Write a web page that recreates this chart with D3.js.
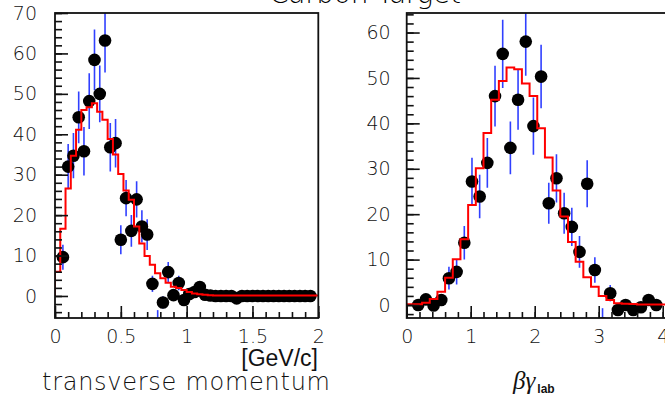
<!DOCTYPE html>
<html>
<head>
<meta charset="utf-8">
<script src="https://cdn.jsdelivr.net/npm/d3@7"></script>
<style>
  body { margin: 0; background: #fff; }
</style>
</head>
<body>
<svg id="chart" width="665" height="400"></svg>
<script>
// ---- left panel: transverse momentum [GeV/c], 0.04 wide bins
const ptBinWidth = 0.04;
const ptFirstCenter = 0.06;
const ptValues = [9.6, 32.0, 34.7, 44.2, 35.8, 48.2, 58.4, 50.0, 63.2, 36.8, 37.8, 13.9,
  24.2, 16.1, 23.9, 17.2, 15.2, 3.0, -8.5, -1.6, 5.9, 0.2, 3.2, -1.0, 0.5, 1.0, 2.2, 0.3,
  0.1, 0, 0, 0, 0, -0.6, 0, 0, 0, 0, 0, 0, 0, 0, 0, 0, 0, 0, 0, 0];
const ptErrors = [3.1, 5.6, 5.6, 6.4, 6.0, 6.9, 7.5, 7.0, 7.9, 6.0, 6.0, 3.6,
  4.5, 3.9, 4.5, 4.0, 3.8, 2.0, 5.0, 1.5, 2.5, 1.0, 1.8, 1.0, 1.0, 1.0, 1.5, 0.6,
  0.5, 0.5, 0.5, 0.5, 0.5, 0.5, 0.5, 0.5, 0.5, 0.5, 0.5, 0.5, 0.5, 0.5, 0.5, 0.5, 0.5, 0.5, 0.5, 0.5];
const ptHist = [6.0, 16.6, 26.6, 34.7, 41.1, 46.0, 46.7, 47.7, 45.6, 43.6, 38.8, 35.0,
  30.2, 26.1, 23.8, 17.2, 13.0, 9.9, 7.7, 5.6, 4.4, 3.3, 2.3, 2.0, 1.5, 1.0, 0.6, 0.4,
  0.3, 0.2, 0.1, 0.1, 0.1, 0.1, 0.1, 0.1, 0.1, 0.1, 0.1, 0.1, 0.1, 0.1, 0.1, 0.1, 0.1, 0.1, 0.1, 0.1, 0.1, 0.1];
const ptMajorX = [0, 0.5, 1, 1.5, 2];
const ptMajorXLabels = ["0", "0.5", "1", "1.5", "2"];
const ptMajorY = [0, 10, 20, 30, 40, 50, 60, 70];

// ---- right panel: beta*gamma (lab), 0.12 wide bins
const bgBinWidth = 0.12;
const bgFirstCenter = 0.18;
const bgValues = [0, 1.25, -0.1, 1.1, 5.9, 7.3, 13.7, 27.2, 23.9, 31.3, 46.0, 55.3,
  34.6, 45.2, 58.0, 39.4, 50.3, 22.4, 27.9, 20.2, 17.2, 11.7, 26.7, 7.7, -4.0, 2.6,
  -1.1, 0, -1.1, -0.5, 1.1, 0];
const bgErrors = [0.8, 1.2, 0.8, 1.2, 2.5, 2.8, 3.7, 5.2, 4.8, 5.5, 6.7, 7.5,
  5.8, 6.6, 7.5, 6.3, 7.0, 4.5, 5.3, 4.5, 4.2, 3.5, 5.2, 2.8, 3.3, 1.8,
  1.0, 0.8, 1.0, 0.8, 1.2, 0.8];
const bgHist = [0.15, 0.15, 0.5, 1.3, 2.9, 6.0, 10.1, 14.5, 22.0, 30.1, 37.9, 45.2,
  49.3, 52.3, 51.9, 48.8, 46.0, 38.9, 32.5, 25.2, 19.5, 13.9, 9.5, 6.1, 4.0, 2.0,
  1.1, 0.4, 0.3, 0.2, 0.1, 0.1, 0.1, 0.1];
const bgMajorX = [0, 1, 2, 3, 4];
const bgMajorXLabels = ["0", "1", "2", "3", "4"];
const bgMajorY = [0, 10, 20, 30, 40, 50, 60];

const thinFont = "'DejaVu Sans', 'Liberation Sans', sans-serif";
const svg = d3.select("#chart");

function drawPanel(p) {
  const x = d3.scaleLinear().domain(p.xDomain).range(p.xRange);
  const y = d3.scaleLinear().domain(p.yDomain).range(p.yRange);
  const left = p.xRange[0], right = p.xRange[1], top = p.yRange[1], bottom = p.yRange[0];

  svg.append("clipPath").attr("id", "clip-" + p.name)
    .append("rect")
    .attr("x", left).attr("y", top)
    .attr("width", right - left).attr("height", bottom - top);

  const plot = svg.append("g").attr("clip-path", `url(#clip-${p.name})`);

  const points = p.values.map((v, i) => ({
    x: p.firstCenter + i * p.binWidth, v: v, e: p.errors[i]
  }));

  // error bars
  plot.selectAll("line.err")
    .data(points)
    .enter().append("line")
    .attr("class", "err")
    .attr("x1", d => x(d.x)).attr("x2", d => x(d.x))
    .attr("y1", d => y(d.v - d.e)).attr("y2", d => y(d.v + d.e))
    .attr("stroke", "#3040ff")
    .attr("stroke-width", 1.6);

  // markers
  plot.selectAll("circle.pt")
    .data(points)
    .enter().append("circle")
    .attr("class", "pt")
    .attr("cx", d => x(d.x)).attr("cy", d => y(d.v))
    .attr("r", 6.3)
    .attr("fill", "#000");

  // red histogram (steps)
  const steps = [{ x: 0, v: 0 }].concat(
    p.hist.map((v, i) => ({ x: i * p.binWidth, v: v })),
    [{ x: p.hist.length * p.binWidth, v: p.hist[p.hist.length - 1] }]
  );
  plot.append("path")
    .datum(steps)
    .attr("fill", "none")
    .attr("stroke", "#ff0000")
    .attr("stroke-width", 2)
    .attr("d", d3.line().x(d => x(d.x)).y(d => y(d.v)).curve(d3.curveStepAfter));

  // axes, ticks pointing inwards
  const xMinor = d3.range(0, p.xDomain[1] + 1e-9, p.xMinorStep);
  const yMinor = d3.range(Math.ceil(p.yDomain[0] / 2) * 2, p.yDomain[1] + 1e-9, 2);

  svg.append("g")
    .attr("transform", `translate(0,${bottom})`)
    .call(d3.axisBottom(x).tickValues(xMinor).tickSize(-6).tickFormat(() => ""));
  svg.append("g")
    .attr("transform", `translate(0,${bottom})`)
    .call(d3.axisBottom(x).tickValues(p.majorX).tickSize(-12).tickPadding(12)
      .tickFormat((d, i) => p.majorXLabels[i]));

  svg.append("g")
    .attr("transform", `translate(${left},0)`)
    .call(d3.axisLeft(y).tickValues(yMinor).tickSize(-7).tickFormat(() => ""));
  svg.append("g")
    .attr("transform", `translate(${left},0)`)
    .call(d3.axisLeft(y).tickValues(p.majorY).tickSize(-13).tickPadding(p.yPad));

  // frame
  svg.append("rect")
    .attr("x", left).attr("y", top)
    .attr("width", right - left).attr("height", bottom - top)
    .attr("fill", "none").attr("stroke", "#111").attr("stroke-width", 1.8);
}

drawPanel({
  name: "pt", xDomain: [0, 2], xRange: [55, 318.3], yDomain: [-5.45, 70], yRange: [318, 13],
  values: ptValues, errors: ptErrors, hist: ptHist, binWidth: ptBinWidth, firstCenter: ptFirstCenter,
  majorX: ptMajorX, majorXLabels: ptMajorXLabels, majorY: ptMajorY, xMinorStep: 0.1, yPad: 18
});

drawPanel({
  name: "bg", xDomain: [0, 4.1], xRange: [406.7, 669.1], yDomain: [-2.86, 64.3], yRange: [318, 13],
  values: bgValues, errors: bgErrors, hist: bgHist, binWidth: bgBinWidth, firstCenter: bgFirstCenter,
  majorX: bgMajorX, majorXLabels: bgMajorXLabels, majorY: bgMajorY, xMinorStep: 0.2, yPad: 16
});

svg.selectAll(".domain").remove();
svg.selectAll(".tick line").attr("stroke", "#111").attr("stroke-width", 1.6);
svg.selectAll(".tick text")
  .attr("fill", "#111")
  .style("font-family", thinFont)
  .style("font-weight", 200)
  .style("font-size", "19px");

// title (mostly above the visible area)
svg.append("text")
  .attr("x", 365).attr("y", 3)
  .attr("text-anchor", "middle")
  .attr("textLength", 192)
  .style("font-family", thinFont).style("font-weight", 200).style("font-size", "28px")
  .text("Carbon Target");

// axis titles
svg.append("text")
  .attr("x", 318).attr("y", 366)
  .attr("text-anchor", "end")
  .style("font-family", "'Liberation Sans', Arial, sans-serif")
  .style("font-size", "23px")
  .attr("fill", "#111")
  .text("[GeV/c]");

svg.append("text")
  .attr("x", 42).attr("y", 390)
  .attr("textLength", 288)
  .style("font-family", thinFont).style("font-weight", 200).style("font-size", "24px")
  .attr("fill", "#111")
  .text("transverse momentum");

const bgLabel = svg.append("text")
  .attr("x", 513).attr("y", 389)
  .attr("fill", "#111");
bgLabel.append("tspan")
  .style("font-family", "'Liberation Serif', 'DejaVu Serif', serif")
  .style("font-style", "italic").style("font-size", "25px")
  .text("βγ");
bgLabel.append("tspan")
  .attr("dy", 4).attr("dx", 2)
  .style("font-family", "'Liberation Sans', Arial, sans-serif")
  .style("font-weight", "bold").style("font-size", "12px")
  .text("lab");
</script>
</body>
</html>
